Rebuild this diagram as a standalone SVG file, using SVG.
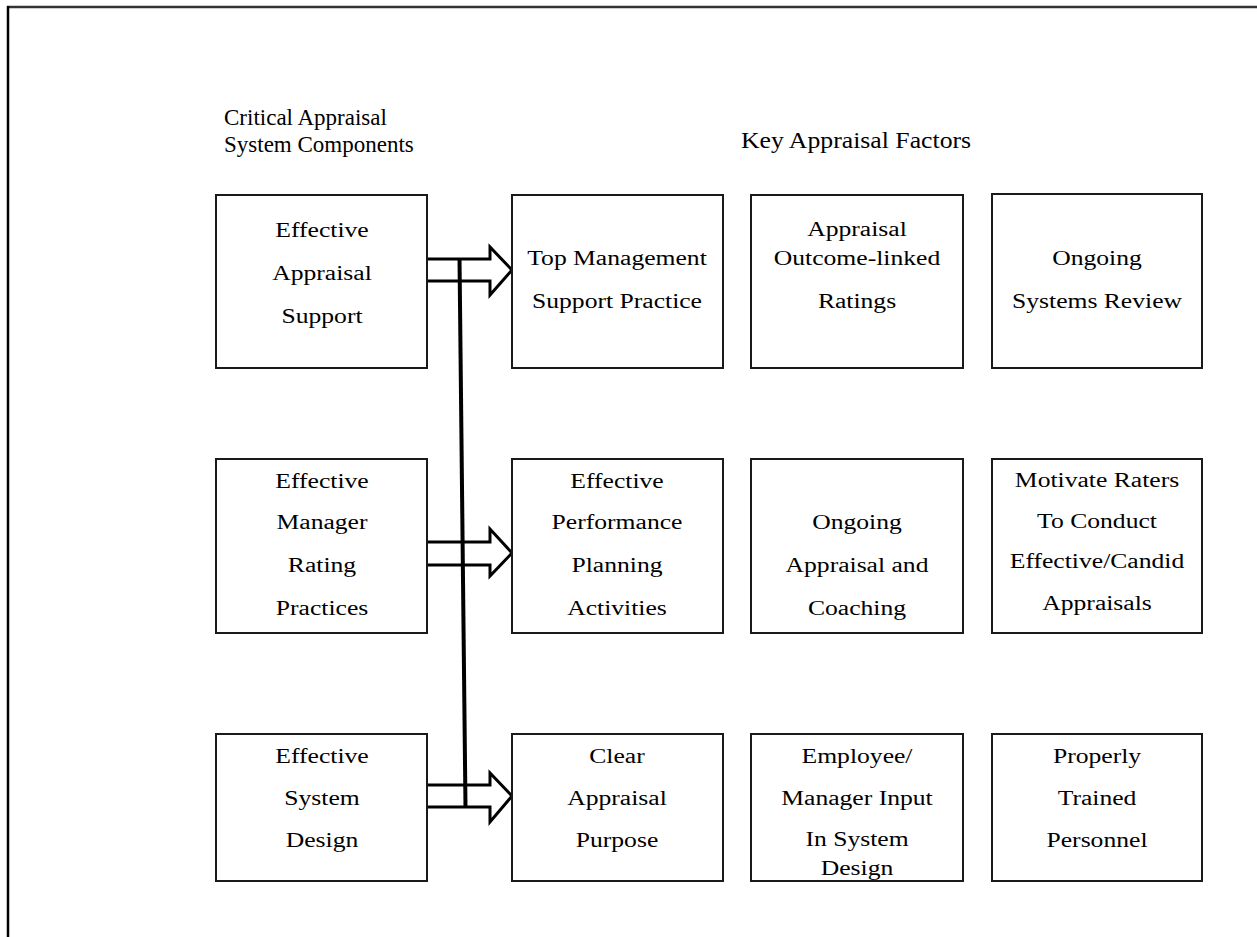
<svg xmlns="http://www.w3.org/2000/svg" width="1257" height="937" viewBox="0 0 1257 937">
  <style>
    .box { fill: #ffffff; stroke: #1a1a1a; stroke-width: 2; }
    .t { font-family: "Liberation Serif", "Times New Roman", serif; font-size: 20.5px; fill: #000; text-anchor: middle; }
    .h { font-family: "Liberation Serif", "Times New Roman", serif; font-size: 23px; fill: #000; }
    .arrow { fill: #ffffff; stroke: #000; stroke-width: 3; stroke-linejoin: miter; }
  </style>
  <rect x="0" y="0" width="1257" height="937" fill="#ffffff"/>
  <!-- page frame -->
  <line x1="7" y1="7" x2="1257" y2="7" stroke="#333" stroke-width="2.5"/>
  <line x1="8" y1="6" x2="8" y2="937" stroke="#000" stroke-width="2.5"/>

  <!-- column headings -->
  <g id="heading-left">
    <text class="h" x="224" y="125">Critical Appraisal</text>
    <text class="h" x="224" y="152">System Components</text>
  </g>
  <g id="heading-right">
    <text class="h" text-anchor="middle" transform="translate(856 148) scale(1.12 1)">Key Appraisal Factors</text>
  </g>

  <!-- connectors -->
  <g id="connectors">
    <polyline class="arrow" points="427,259 490,259 490,247 512,270 490,295 490,281 427,281"/>
    <polyline class="arrow" points="427,542 490,542 490,529 512,553 490,576 490,565 427,565"/>
    <polyline class="arrow" points="427,785 490,785 490,773 512,796 490,822 490,807 427,807"/>
    <line x1="459.5" y1="258" x2="465.5" y2="808" stroke="#000" stroke-width="4"/>
  </g>

  <!-- row 1 -->
  <g id="effective-appraisal-support">
    <rect class="box" x="216" y="195" width="211" height="173"/>
    <text class="t" transform="translate(322 237) scale(1.25 1)">Effective</text>
    <text class="t" transform="translate(322 280) scale(1.25 1)">Appraisal</text>
    <text class="t" transform="translate(322 323) scale(1.25 1)">Support</text>
  </g>
  <g id="top-management-support">
    <rect class="box" x="512" y="195" width="211" height="173"/>
    <text class="t" transform="translate(617 265) scale(1.25 1)">Top Management</text>
    <text class="t" transform="translate(617 308) scale(1.25 1)">Support Practice</text>
  </g>
  <g id="outcome-linked-ratings">
    <rect class="box" x="751" y="195" width="212" height="173"/>
    <text class="t" transform="translate(857 236) scale(1.25 1)">Appraisal</text>
    <text class="t" transform="translate(857 265) scale(1.25 1)">Outcome-linked</text>
    <text class="t" transform="translate(857 308) scale(1.25 1)">Ratings</text>
  </g>
  <g id="ongoing-systems-review">
    <rect class="box" x="992" y="194" width="210" height="174"/>
    <text class="t" transform="translate(1097 265) scale(1.25 1)">Ongoing</text>
    <text class="t" transform="translate(1097 308) scale(1.25 1)">Systems Review</text>
  </g>

  <!-- row 2 -->
  <g id="effective-manager-rating">
    <rect class="box" x="216" y="459" width="211" height="174"/>
    <text class="t" transform="translate(322 488) scale(1.25 1)">Effective</text>
    <text class="t" transform="translate(322 529) scale(1.25 1)">Manager</text>
    <text class="t" transform="translate(322 572) scale(1.25 1)">Rating</text>
    <text class="t" transform="translate(322 615) scale(1.25 1)">Practices</text>
  </g>
  <g id="performance-planning">
    <rect class="box" x="512" y="459" width="211" height="174"/>
    <text class="t" transform="translate(617 488) scale(1.25 1)">Effective</text>
    <text class="t" transform="translate(617 529) scale(1.25 1)">Performance</text>
    <text class="t" transform="translate(617 572) scale(1.25 1)">Planning</text>
    <text class="t" transform="translate(617 615) scale(1.25 1)">Activities</text>
  </g>
  <g id="ongoing-appraisal-coaching">
    <rect class="box" x="751" y="459" width="212" height="174"/>
    <text class="t" transform="translate(857 529) scale(1.25 1)">Ongoing</text>
    <text class="t" transform="translate(857 572) scale(1.25 1)">Appraisal and</text>
    <text class="t" transform="translate(857 615) scale(1.25 1)">Coaching</text>
  </g>
  <g id="motivate-raters">
    <rect class="box" x="992" y="459" width="210" height="174"/>
    <text class="t" transform="translate(1097 487) scale(1.25 1)">Motivate Raters</text>
    <text class="t" transform="translate(1097 528) scale(1.25 1)">To Conduct</text>
    <text class="t" transform="translate(1097 568) scale(1.25 1)">Effective/Candid</text>
    <text class="t" transform="translate(1097 610) scale(1.25 1)">Appraisals</text>
  </g>

  <!-- row 3 -->
  <g id="effective-system-design">
    <rect class="box" x="216" y="734" width="211" height="147"/>
    <text class="t" transform="translate(322 763) scale(1.25 1)">Effective</text>
    <text class="t" transform="translate(322 805) scale(1.25 1)">System</text>
    <text class="t" transform="translate(322 847) scale(1.25 1)">Design</text>
  </g>
  <g id="clear-appraisal-purpose">
    <rect class="box" x="512" y="734" width="211" height="147"/>
    <text class="t" transform="translate(617 763) scale(1.25 1)">Clear</text>
    <text class="t" transform="translate(617 805) scale(1.25 1)">Appraisal</text>
    <text class="t" transform="translate(617 847) scale(1.25 1)">Purpose</text>
  </g>
  <g id="employee-manager-input">
    <rect class="box" x="751" y="734" width="212" height="147"/>
    <text class="t" transform="translate(857 763) scale(1.25 1)">Employee/</text>
    <text class="t" transform="translate(857 805) scale(1.25 1)">Manager Input</text>
    <text class="t" transform="translate(857 846) scale(1.25 1)">In System</text>
    <text class="t" transform="translate(857 875) scale(1.25 1)">Design</text>
  </g>
  <g id="properly-trained-personnel">
    <rect class="box" x="992" y="734" width="210" height="147"/>
    <text class="t" transform="translate(1097 763) scale(1.25 1)">Properly</text>
    <text class="t" transform="translate(1097 805) scale(1.25 1)">Trained</text>
    <text class="t" transform="translate(1097 847) scale(1.25 1)">Personnel</text>
  </g>
</svg>
